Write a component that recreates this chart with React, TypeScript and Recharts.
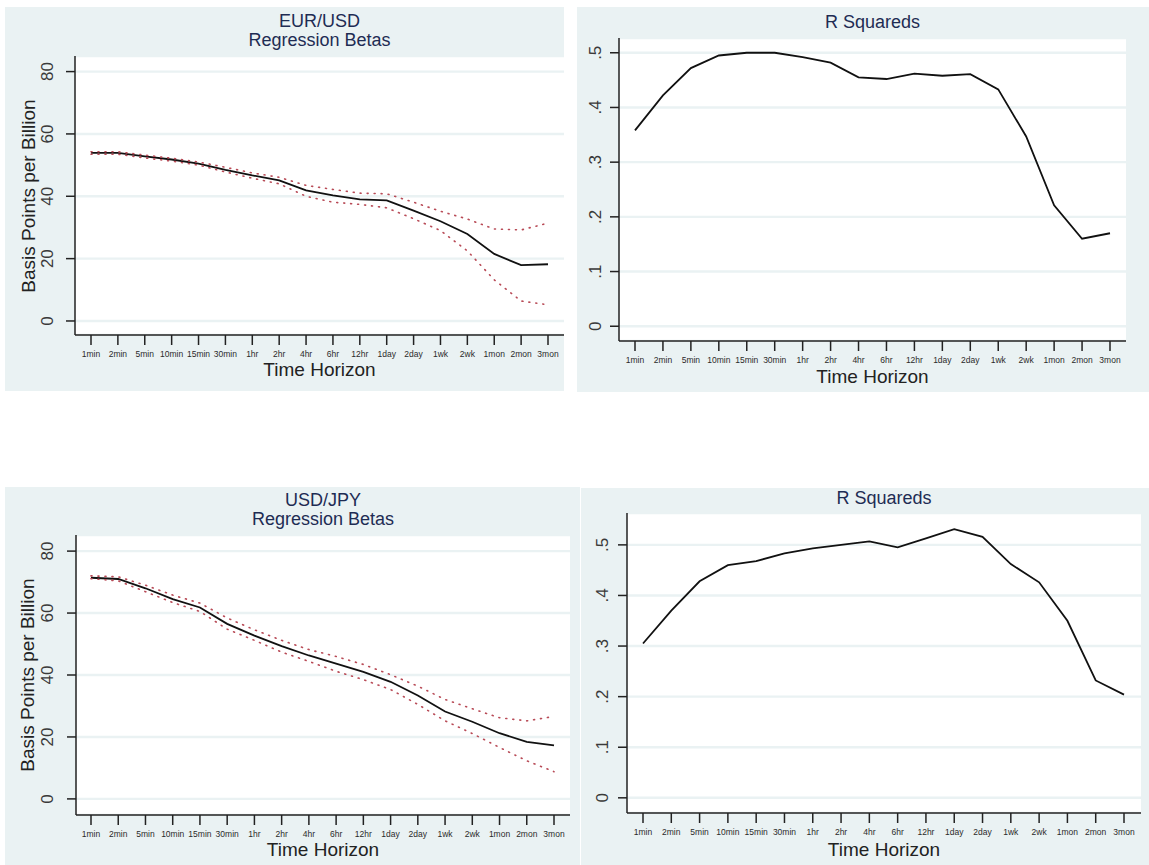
import React from 'react';
import { LineChart, Line, XAxis, YAxis, CartesianGrid } from 'recharts';

const FONT = '"Liberation Sans", Arial, Helvetica, sans-serif';

const categories = ['1min', '2min', '5min', '10min', '15min', '30min', '1hr', '2hr', '4hr', '6hr', '12hr', '1day', '2day', '1wk', '2wk', '1mon', '2mon', '3mon'];

const eurBeta = [53.9, 53.9, 52.8, 51.8, 50.5, 48.5, 46.7, 45.1, 41.9, 40.3, 39.0, 38.7, 35.4, 32.0, 27.9, 21.5, 17.9, 18.2];
const eurUpper = [54.3, 54.3, 53.2, 52.2, 51.0, 49.3, 47.5, 46.1, 43.5, 42.2, 41.0, 40.8, 38.1, 35.2, 32.7, 29.5, 29.2, 31.4];
const eurLower = [53.5, 53.5, 52.3, 51.3, 50.0, 47.8, 45.8, 44.0, 40.0, 38.1, 37.4, 36.3, 32.8, 29.0, 22.5, 13.2, 6.4, 5.2];

const jpyBeta = [71.4, 71.0, 68.0, 64.5, 61.8, 56.5, 52.7, 49.3, 46.3, 43.7, 41.0, 37.8, 33.4, 28.2, 24.9, 21.2, 18.4, 17.3];
const jpyUpper = [72.0, 71.7, 69.0, 65.8, 63.2, 58.4, 54.6, 51.2, 48.2, 46.0, 43.4, 40.1, 36.4, 32.1, 29.1, 26.2, 25.2, 26.6];
const jpyLower = [71.1, 70.4, 66.9, 63.4, 60.5, 54.8, 51.2, 47.4, 44.4, 41.2, 38.5, 35.3, 30.5, 25.2, 21.1, 16.6, 12.3, 8.8];

const eurR2 = [0.358, 0.422, 0.472, 0.495, 0.5, 0.5, 0.492, 0.482, 0.455, 0.452, 0.462, 0.458, 0.461, 0.433, 0.347, 0.221, 0.16, 0.17];
const jpyR2 = [0.305, 0.37, 0.428, 0.46, 0.468, 0.483, 0.493, 0.5, 0.507, 0.495, 0.513, 0.531, 0.516, 0.462, 0.426, 0.35, 0.232, 0.204];

const betaTicks = [0, 20, 40, 60, 80];
const r2Ticks = [0, 0.1, 0.2, 0.3, 0.4, 0.5];
const r2Labels = ['0', '.1', '.2', '.3', '.4', '.5'];

const BG = '#eaf2f3';
const TITLE = '#1e2c53';

const eurBetaData = categories.map((c, i) => ({ h: c, b: eurBeta[i], u: eurUpper[i], l: eurLower[i] }));
const jpyBetaData = categories.map((c, i) => ({ h: c, b: jpyBeta[i], u: jpyUpper[i], l: jpyLower[i] }));
const eurR2Data = categories.map((c, i) => ({ h: c, r: eurR2[i] }));
const jpyR2Data = categories.map((c, i) => ({ h: c, r: jpyR2[i] }));

type Spec = {
  bg: { x: number; y: number; w: number; h: number };
  plot: { l: number; t: number; r: number; b: number };
  domain: [number, number];
  ticks: number[];
  fmt: (v: number) => string;
  pad: { left: number; right: number };
  titles: { text: string; y: number }[];
  thY: number;
  ylabel?: { text: string; x: number };
  yTickOff: number;
  data: any[];
  beta: boolean;
};

function Panel({ s }: { s: Spec }) {
  const { bg, plot } = s;
  const axisX = plot.l - bg.x;
  const cx = (plot.l + plot.r) / 2;
  const cy = (plot.t + plot.b) / 2;
  const YTick = (p: any) => {
    const tx = axisX - s.yTickOff;
    return (
      <text
        x={tx}
        y={p.y}
        transform={`rotate(-90 ${tx} ${p.y})`}
        textAnchor="middle"
        fontSize={17}
        fill="#3a3a3a"
        fontFamily={FONT}
      >
        {s.fmt(p.payload.value)}
      </text>
    );
  };
  return (
    <>
      <div style={{ position: 'absolute', left: bg.x, top: bg.y, width: bg.w, height: bg.h, background: BG }}>
        <LineChart
          width={bg.w}
          height={bg.h}
          data={s.data}
          margin={{ top: plot.t - bg.y, right: bg.x + bg.w - plot.r, bottom: 0, left: 0 }}
        >
          <CartesianGrid vertical={false} stroke={BG} strokeWidth={2.4} fill="#ffffff" fillOpacity={1} />
          <XAxis
            dataKey="h"
            interval={0}
            padding={s.pad}
            height={bg.y + bg.h - plot.b}
            tickSize={10}
            tickMargin={6}
            axisLine={{ stroke: '#222', strokeWidth: 1.5 }}
            tickLine={{ stroke: '#222', strokeWidth: 1.5 }}
            tick={{ fontSize: 8.5, fill: '#2a2a2a', fontFamily: FONT }}
          />
          <YAxis
            type="number"
            domain={s.domain}
            ticks={s.ticks}
            allowDataOverflow
            width={axisX}
            tickSize={9}
            axisLine={{ stroke: '#222', strokeWidth: 1.5 }}
            tickLine={{ stroke: '#222', strokeWidth: 1.5 }}
            tick={YTick}
          />
          {s.beta ? (
            <>
              <Line dataKey="b" type="linear" stroke="#111" strokeWidth={1.8} dot={false} isAnimationActive={false} />
              <Line dataKey="u" type="linear" stroke="#b84a56" strokeWidth={1.6} strokeDasharray="1 6" strokeLinecap="round" dot={false} isAnimationActive={false} />
              <Line dataKey="l" type="linear" stroke="#b84a56" strokeWidth={1.6} strokeDasharray="1 6" strokeLinecap="round" dot={false} isAnimationActive={false} />
            </>
          ) : (
            <Line dataKey="r" type="linear" stroke="#111" strokeWidth={1.8} dot={false} isAnimationActive={false} />
          )}
        </LineChart>
      </div>
      {s.titles.map((t, i) => (
        <div
          key={i}
          style={{
            position: 'absolute', left: cx, top: t.y, transform: 'translate(-50%, -50%)',
            whiteSpace: 'nowrap', fontFamily: FONT, fontSize: 18, color: TITLE, lineHeight: 1,
          }}
        >
          {t.text}
        </div>
      ))}
      <div
        style={{
          position: 'absolute', left: cx, top: s.thY, transform: 'translate(-50%, -50%)',
          whiteSpace: 'nowrap', fontFamily: FONT, fontSize: 19, color: '#222', lineHeight: 1,
        }}
      >
        Time Horizon
      </div>
      {s.ylabel && (
        <div
          style={{
            position: 'absolute', left: s.ylabel.x, top: cy, transform: 'translate(-50%, -50%) rotate(-90deg)',
            whiteSpace: 'nowrap', fontFamily: FONT, fontSize: 19, color: '#222', lineHeight: 1,
          }}
        >
          {s.ylabel.text}
        </div>
      )}
    </>
  );
}

const specs: Spec[] = [
  {
    bg: { x: 5, y: 7, w: 559, h: 384 },
    plot: { l: 75, t: 56, r: 564, b: 335 },
    domain: [-4.5, 85],
    ticks: betaTicks,
    fmt: (v) => String(v),
    pad: { left: 16, right: 16 },
    titles: [{ text: 'EUR/USD', y: 21 }, { text: 'Regression Betas', y: 40 }],
    thY: 369,
    ylabel: { text: 'Basis Points per Billion', x: 28 },
    yTickOff: 22,
    data: eurBetaData,
    beta: true,
  },
  {
    bg: { x: 577, y: 7, w: 572, h: 385 },
    plot: { l: 619, t: 38, r: 1126, b: 341 },
    domain: [-0.027, 0.527],
    ticks: r2Ticks,
    fmt: (v) => r2Labels[r2Ticks.indexOf(v)] ?? String(v),
    pad: { left: 16, right: 16 },
    titles: [{ text: 'R Squareds', y: 22 }],
    thY: 376,
    yTickOff: 18,
    data: eurR2Data,
    beta: false,
  },
  {
    bg: { x: 5, y: 487, w: 575, h: 378 },
    plot: { l: 76, t: 535, r: 570, b: 815 },
    domain: [-5.2, 85.2],
    ticks: betaTicks,
    fmt: (v) => String(v),
    pad: { left: 15, right: 16 },
    titles: [{ text: 'USD/JPY', y: 500 }, { text: 'Regression Betas', y: 519 }],
    thY: 849,
    ylabel: { text: 'Basis Points per Billion', x: 27 },
    yTickOff: 23,
    data: jpyBetaData,
    beta: true,
  },
  {
    bg: { x: 581, y: 488, w: 568, h: 377 },
    plot: { l: 627, t: 513, r: 1141, b: 813 },
    domain: [-0.03, 0.563],
    ticks: r2Ticks,
    fmt: (v) => r2Labels[r2Ticks.indexOf(v)] ?? String(v),
    pad: { left: 16, right: 17 },
    titles: [{ text: 'R Squareds', y: 498 }],
    thY: 849,
    yTickOff: 19,
    data: jpyR2Data,
    beta: false,
  },
];

export default function App() {
  return (
    <div style={{ position: 'absolute', left: 0, top: 0, width: 1149, height: 865, background: '#ffffff', overflow: 'hidden' }}>
      {specs.map((s, i) => (
        <Panel key={i} s={s} />
      ))}
    </div>
  );
}
